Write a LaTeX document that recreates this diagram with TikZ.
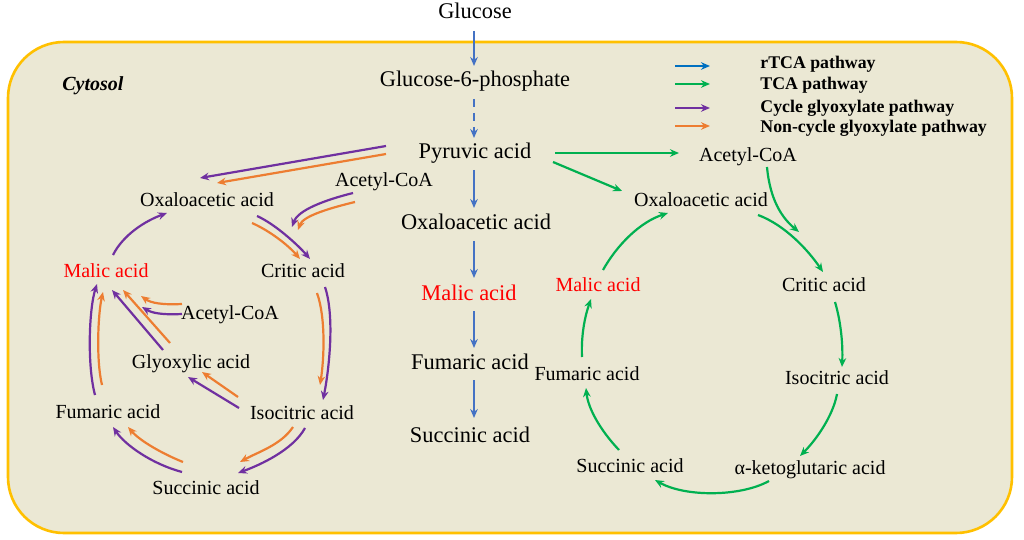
\documentclass[tikz,border=0pt]{standalone}
\usepackage{fontspec}
\setmainfont{Liberation Serif}
\usetikzlibrary{arrows.meta,calc}
\definecolor{bgc}{HTML}{EBE8D4}
\definecolor{framec}{HTML}{FFC000}
\definecolor{bluec}{HTML}{4472C4}
\definecolor{legblue}{HTML}{0070C0}
\definecolor{greenc}{HTML}{00B050}
\definecolor{purplec}{HTML}{7030A0}
\definecolor{orangec}{HTML}{ED7D31}
\definecolor{redc}{HTML}{FF0000}
\tikzset{
  big/.style={inner sep=0pt, anchor=base, font=\fontsize{11.2}{13}\selectfont},
  small/.style={inner sep=0pt, anchor=base, font=\fontsize{10}{12}\selectfont},
  legtxt/.style={inner sep=0pt, anchor=base west, font=\fontsize{8.9}{11}\selectfont\bfseries},
  arr/.style={line width=1.1pt, -{Stealth[length=4.5pt,width=3.8pt]}},
  barr/.style={arr, draw=bluec},
  garr/.style={arr, draw=greenc},
  parr/.style={arr, draw=purplec},
  oarr/.style={arr, draw=orangec},
}
\begin{document}
\begin{tikzpicture}[x=0.5pt,y=-0.5pt]
\useasboundingbox (0,0) rectangle (1024,540);
% frame
\draw[line width=1.3pt, draw=framec, fill=bgc, rounded corners=28pt] (8,42) rectangle (1012,533);
\node[inner sep=0pt, anchor=base west, font=\fontsize{10}{12}\selectfont\bfseries\itshape] (cyt) at (62,91) {Cytosol};

% center column
\node[big] (glc) at (475,19) {Glucose};
\node[big] (g6p) at (475,87) {Glucose-6-phosphate};
\node[big] (pyr) at (475,159) {Pyruvic acid};
\node[big] (oaaC) at (476,229) {Oxaloacetic acid};
\node[big, text=redc] (malC) at (469,300) {Malic acid};
\node[big] (fumC) at (470,369) {Fumaric acid};
\node[big] (sucC) at (470,442) {Succinic acid};

% right cycle
\node[small] (acoR) at (748,162) {Acetyl-CoA};
\node[small] (oaaR) at (701,206) {Oxaloacetic acid};
\node[small] (critR) at (824,292) {Critic acid};
\node[small] (isoR) at (837,384) {Isocitric acid};
\node[small] (akgR) at (810,474) {α-ketoglutaric acid};
\node[small] (sucR) at (630,472) {Succinic acid};
\node[small] (fumR) at (587,380) {Fumaric acid};
\node[small, text=redc] (malR) at (598,292) {Malic acid};

% left cycle
\node[small] (oaaL) at (207,206) {Oxaloacetic acid};
\node[small] (critL) at (303,278) {Critic acid};
\node[small, text=redc] (malL) at (106,278) {Malic acid};
\node[small] (acoL1) at (384,187) {Acetyl-CoA};
\node[small] (acoL2) at (230,319) {Acetyl-CoA};
\node[small] (glyL) at (191,368) {Glyoxylic acid};
\node[small] (fumL) at (108,418) {Fumaric acid};
\node[small] (isoL) at (302,419) {Isocitric acid};
\node[small] (sucL) at (206,494) {Succinic acid};

% legend
\node[legtxt] (lg1) at (760,69) {rTCA pathway};
\node[legtxt] (lg2) at (760,90) {TCA pathway};
\node[legtxt] (lg3) at (760,113) {Cycle glyoxylate pathway};
\node[legtxt] (lg4) at (760,133) {Non-cycle glyoxylate pathway};
\draw[arr, draw=legblue] ($(lg1.base west)+(-85,-3)$) -- ($(lg1.base west)+(-50,-3)$);
\draw[garr] ($(lg2.base west)+(-85,-6)$) -- ($(lg2.base west)+(-50,-6)$);
\draw[parr] ($(lg3.base west)+(-85,-5)$) -- ($(lg3.base west)+(-50,-5)$);
\draw[oarr] ($(lg4.base west)+(-85,-7)$) -- ($(lg4.base west)+(-50,-7)$);

% center blue arrows
\draw[barr] ($(glc.base)+(-1,12)$) -- ($(g6p.base)+(-1,-21)$);
\draw[barr, dash pattern=on 4pt off 3pt] ($(g6p.base)+(-1,12)$) -- ($(pyr.base)+(-1,-21)$);
\draw[barr] ($(pyr.base)+(-1,11)$) -- ($(oaaC.base)+(-2,-21)$);
\draw[barr] ($(oaaC.base)+(-2,12)$) -- ($(malC.base)+(5,-22)$);
\draw[barr] ($(malC.base)+(5,11)$) -- ($(fumC.base)+(4,-21)$);
\draw[barr] ($(fumC.base)+(4,11)$) -- ($(sucC.base)+(4,-24)$);

% green TCA
\draw[garr] ($(pyr.base)+(80,-6)$) -- ($(acoR.base)+(-69,-9)$);
\draw[garr] ($(pyr.base)+(78,3)$) -- ($(oaaR.base)+(-79,-15)$);
\draw[garr] ($(acoR.base)+(19,5)$) .. controls +(3,33) and +(-17,-14) .. ($(critR.base)+(-25,-60)$);
\draw[garr] ($(oaaR.base)+(57,9)$) .. controls +(27,10) and +(-15,-22) .. ($(critR.base)+(-1,-20)$);
\draw[garr] ($(critR.base)+(11,10)$) .. controls +(6,20) and +(1,-22) .. ($(isoR.base)+(5,-17)$);
\draw[garr] ($(isoR.base)+(0,10)$) .. controls +(-4,22) and +(16,-16) .. ($(akgR.base)+(-10,-18)$);
\draw[garr] ($(akgR.base)+(-41,7)$) .. controls +(-29,16) and +(30,17) .. ($(sucR.base)+(25,8)$);
\draw[garr] ($(sucR.base)+(-11,-22)$) .. controls +(-19,-20) and +(2,20) .. ($(fumR.base)+(-1,8)$);
\draw[garr] ($(fumR.base)+(-5,-23)$) .. controls +(-1,-22) and +(-6,17) .. ($(malR.base)+(-7,7)$);
\draw[garr] ($(malR.base)+(5,-22)$) .. controls +(14,-25) and +(-28,9) .. ($(oaaR.base)+(-33,7)$);

% left glyoxylate
\draw[parr] ($(pyr.base)+(-89,-13)$) -- ($(oaaL.base)+(-7,-28)$);
\draw[oarr] ($(pyr.base)+(-89,-5)$) -- ($(oaaL.base)+(10,-23)$);
\draw[parr] ($(acoL1.base)+(-31,6)$) .. controls +(-28,7) and +(6,-17) .. ($(critL.base)+(-11,-51)$);
\draw[oarr] ($(acoL1.base)+(-29,15)$) .. controls +(-25,6) and +(5,-14) .. ($(critL.base)+(-5,-48)$);
\draw[parr] ($(oaaL.base)+(50,10)$) .. controls +(18,8) and +(-12,-14) .. ($(critL.base)+(7,-19)$);
\draw[oarr] ($(oaaL.base)+(45,17)$) .. controls +(18,8) and +(-12,-14) .. ($(critL.base)+(-3,-19)$);
\draw[parr] ($(malL.base)+(7,-23)$) .. controls +(10,-20) and +(-22,8) .. ($(oaaL.base)+(-40,7)$);
\draw[oarr] ($(acoL2.base)+(-48,-15)$) .. controls +(-20,1) and +(10,7) .. ($(malL.base)+(35,18)$);
\draw[parr] ($(acoL2.base)+(-48,-5)$) .. controls +(-20,1) and +(10,6) .. ($(malL.base)+(36,29)$);
\draw[parr] ($(glyL.base)+(-28,-18)$) -- ($(malL.base)+(6,12)$);
\draw[oarr] ($(glyL.base)+(-21,-25)$) -- ($(malL.base)+(17,12)$);
\draw[parr] ($(fumL.base)+(-13,-23)$) .. controls +(-8,-30) and +(-8,25) .. ($(malL.base)+(-9,6)$);
\draw[oarr] ($(fumL.base)+(-6,-33)$) .. controls +(-6,-25) and +(-5,22) .. ($(malL.base)+(-3,14)$);
\draw[oarr] ($(critL.base)+(14,15)$) .. controls +(9,25) and +(4,-25) .. ($(isoL.base)+(18,-34)$);
\draw[parr] ($(critL.base)+(22,9)$) .. controls +(10,30) and +(6,-30) .. ($(isoL.base)+(21,-19)$);
\draw[oarr] ($(isoL.base)+(-64,-22)$) -- ($(glyL.base)+(11,4)$);
\draw[parr] ($(isoL.base)+(-63,-11)$) -- ($(glyL.base)+(-3,9)$);
\draw[oarr] ($(isoL.base)+(-9,8)$) .. controls +(-12,18) and +(18,-10) .. ($(sucL.base)+(34,-32)$);
\draw[parr] ($(isoL.base)+(3,9)$) .. controls +(-12,22) and +(22,-8) .. ($(sucL.base)+(32,-21)$);
\draw[oarr] ($(sucL.base)+(-23,-32)$) .. controls +(-20,-8) and +(12,14) .. ($(fumL.base)+(20,9)$);
\draw[parr] ($(sucL.base)+(-24,-22)$) .. controls +(-30,-8) and +(12,18) .. ($(fumL.base)+(5,9)$);
\end{tikzpicture}
\end{document}
